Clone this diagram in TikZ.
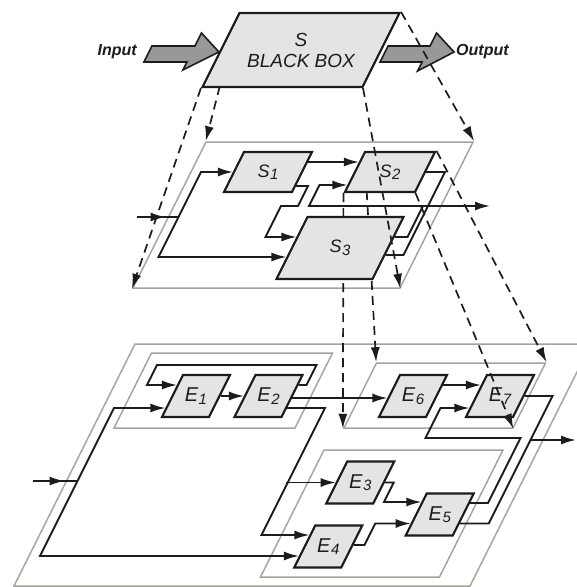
\documentclass[tikz,border=0pt]{standalone}
\usepackage{fontspec}
\setmainfont{Liberation Sans}
\usepackage{tikz}
\usetikzlibrary{arrows.meta, calc}

\definecolor{boxgray}{HTML}{E4E4E2}
\definecolor{arrowgray}{HTML}{989896}
\definecolor{planegray}{HTML}{A5A39C}
\definecolor{inkblack}{HTML}{1C1C1C}
\newcommand{\lowsub}[1]{\kern0.5pt\raisebox{-2.5pt}{\fontsize{15}{15}\selectfont #1}}

\begin{document}
\begin{tikzpicture}[
    x=1pt, y=-1pt,
    link/.style={line width=1.9pt, draw=inkblack},
    arrow/.style={link, -{Latex[length=15pt, width=9pt]}},
    dashlink/.style={line width=1.7pt, draw=inkblack, dash pattern=on 9pt off 6pt, -{Latex[length=15pt, width=9pt]}},
    plane/.style={rectangle, draw=planegray, line width=1.5pt, inner sep=0pt, transform shape},
    sbox/.style={rectangle, draw=inkblack, fill=boxgray, line width=2.1pt, inner sep=0pt, transform shape},
    ebox/.style={sbox, minimum width=47pt, minimum height=42pt},
    stag/.style={font=\fontsize{18}{20}\selectfont\itshape, text=inkblack},
    etag/.style={font=\fontsize{20}{22}\selectfont\itshape, text=inkblack},
    bbtag/.style={font=\fontsize{19}{21}\selectfont\itshape, align=center, text=inkblack},
    word/.style={font=\fontsize{16}{18}\selectfont\bfseries\itshape, inner sep=0pt, text=inkblack},
    bigarrow/.style={draw=inkblack, fill=arrowgray, line width=1.6pt}
]
\useasboundingbox (0,0) rectangle (577,587);
\clip (0,0) rectangle (577,587);
\begin{scope}[xslant=0.5]
% planes
\node[plane, minimum width=267pt, minimum height=146pt] (mp) at (410.5,215) {};
\node[plane, minimum width=456pt, minimum height=242pt] (pe) at (535,465) {};
\node[plane, minimum width=181pt, minimum height=75pt] (p1) at (418.5,390.5) {};
\node[plane, minimum width=169pt, minimum height=65pt] (p2) at (642.5,395.5) {};
\node[plane, minimum width=179pt, minimum height=127pt] (p3) at (638.5,513.5) {};

% subsystems
\node[sbox, minimum width=68pt, minimum height=40pt, label={[stag]center:S\lowsub{1}}] (s1) at (354,172) {};
\node[sbox, minimum width=70pt, minimum height=40pt, label={[stag]center:S\lowsub{2}}] (s2) at (476,172) {};

% elements
\node[ebox, label={[etag]center:E\lowsub{1}}] (e1) at (394,396) {};
\node[ebox, label={[etag]center:E\lowsub{2}}] (e2) at (466.5,396) {};
\node[ebox, label={[etag]center:E\lowsub{6}}] (e6) at (611,396) {};
\node[ebox, label={[etag]center:E\lowsub{7}}] (e7) at (698,396) {};
\node[ebox, label={[etag]center:E\lowsub{3}}] (e3) at (601.5,482.5) {};
\node[ebox, label={[etag]center:E\lowsub{5}}] (e5) at (697,514.5) {};
\node[ebox, label={[etag]center:E\lowsub{4}}] (e4) at (601.5,546.5) {};

% S2 projected onto its plane
\draw[dashlink] ($(s2.north west)!0.19!(p2.north west)$) -- (p2.north west);
\draw[dashlink] (s2.south west) -- (p2.south west);
\draw[dashlink] (s2.north east) -- (p2.north east);
\draw[dashlink] (s2.south east) -- (p2.south east);

\node[sbox, minimum width=96pt, minimum height=62pt, label={[stag]center:S\lowsub{3}}] (s3) at (464,248) {};

% black box
\node[sbox, minimum width=160pt, minimum height=74pt, label={[bbtag]center:{S\\BLACK BOX}}] (bb) at (326,50) {};
\draw[bigarrow] ($(bb.west)+(0,2)$) -- ++(-27,-19) -- ++(0,13) -- ++(-43,0) -- ++(0,16) -- ++(43,0) -- ++(0,8) -- cycle;
\draw[bigarrow] ($(bb.east)+(4,-4)$) -- ++(42,0) -- ++(0,-13) -- ++(27,19) -- ++(-27,19) -- ++(0,-9) -- ++(-42,0) -- cycle;
\node[word, anchor=east] (inword) at (163,52) {Input};
\node[word, anchor=west] (outword) at (482,52) {Output};

% middle level
\coordinate (inS) at (245,217);
\coordinate (jS) at (287,217);
\coordinate (outS) at (593,206);
\draw[link] (inS) -- (jS);
\draw[arrow] (inS) -- ++(29,0);
\draw[arrow] (jS) |- (s1.west);
\draw[arrow] (jS) |- ($(s3.west)+(0,9)$);
\draw[arrow] ($(s1.east)+(0,-10)$) -- ($(s2.west)+(0,-10)$);
\draw[arrow] ($(s1.east)+(0,14)$) -- ++(12,0) -- ++(0,20) -| ++(-17,31) -- ($(s3.west)+(0,-11)$);
\draw[arrow] ($(s3.east)+(0,-11)$) -- ++(13,0) -- ++(0,-31) -| ++(-114,-21) -- ($(s2.west)+(0,13)$);
\draw[arrow] ($(s3.east)+(13,-42)$) -- (outS);
\draw[link] (s2.east) -- ++(19,0) |- ($(s3.east)+(0,7)$);

% bottom level
\coordinate (inE) at (273,481);
\coordinate (jE) at (318,481);
\coordinate (outE) at (796,440);
\draw[link] (inE) -- (jE);
\draw[arrow] (inE) -- ++(32,0);
\draw[arrow] (jE) |- ($(e1.west)+(0,12)$);
\draw[arrow] (jE) |- ($(e4.west)+(0,9.5)$);
\draw[arrow] (e1) -- (e2);
\draw[arrow] ($(e2.east)+(0,-11)$) -- ++(8,0) -- ++(0,-20) -| ($(e1.west)+(-30,-11)$) -- ($(e1.west)+(0,-11)$);
\draw[arrow] ($(e2.east)+(0,2)$) -- ($(e6.west)+(0,2)$);
\draw[arrow] ($(e2.east)+(0,12)$) -| ++(38,127) -- ($(e4.west)+(0,-11.5)$);
\draw[arrow] ($(e3.west)+(-50,0)$) -- (e3.west);
\draw[arrow] (e3.east) -- ++(9,0) |- ($(e5.west)+(0,-12.5)$);
\draw[arrow] ($(e4.east)+(0,-1.5)$) -- ++(11,0) |- ($(e5.west)+(0,9)$);
\draw[arrow] ($(e6.east)+(0,-11)$) -- ($(e7.west)+(0,-11)$);
\draw[link] (e7.east) -- ++(28,0) |- ($(e5.east)+(0,9)$);
\draw[arrow] ($(e7.east)+(28,44)$) -- (outE);
\draw[arrow] ($(e5.east)+(0,-11.5)$) -- ++(18,0) |- ++(-95,-65) |- ($(e7.west)+(0,12)$);

% black box projected onto the middle plane
\draw[dashlink] ($(bb.north west)!0.574!(mp.north west)$) -- (mp.north west);
\draw[dashlink] (bb.south west) -- (mp.south west);
\draw[dashlink] (bb.south east) -- (mp.south east);
\draw[dashlink] (bb.north east) -- (mp.north east);
\end{scope}
\end{tikzpicture}
\end{document}
